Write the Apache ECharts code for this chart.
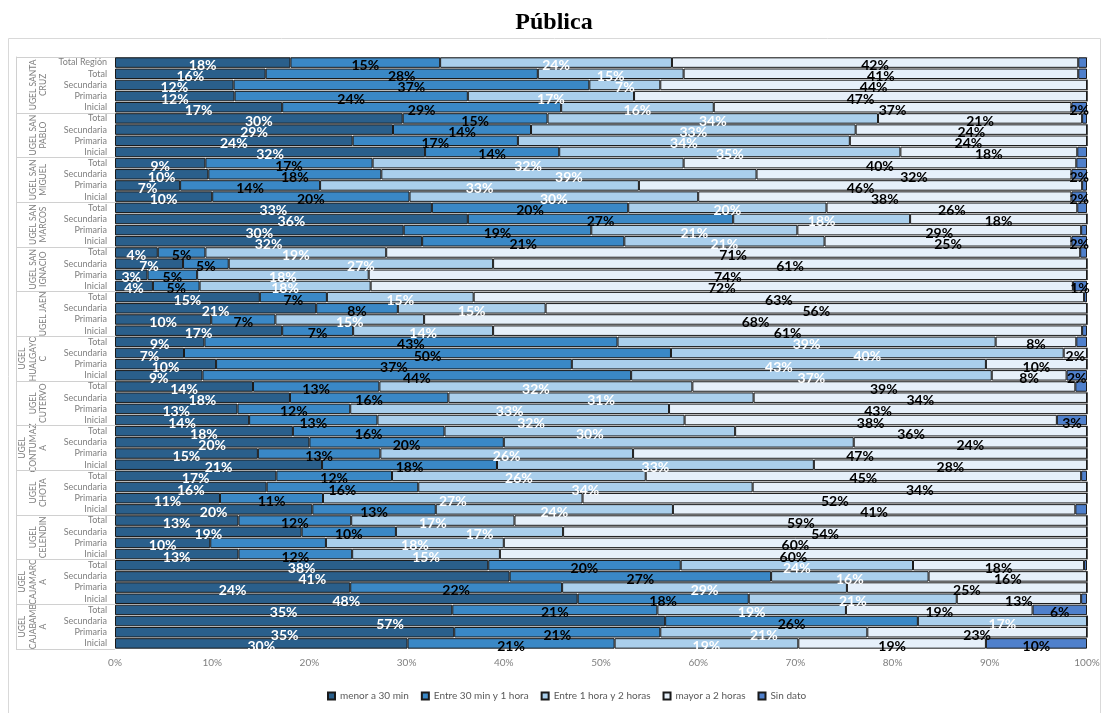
<!DOCTYPE html>
<html>
<head>
<meta charset="utf-8">
<script src="https://cdn.jsdelivr.net/npm/echarts@6/dist/echarts.min.js"></script>
<style>html,body{margin:0;padding:0;background:#fff}#c{width:1108px;height:713px}</style>
</head>
<body>
<div id="c"></div>
<script>
// Row labels, top to bottom
const rowLabels = ['Total Región',
 'Total','Secundaria','Primaria','Inicial',
 'Total','Secundaria','Primaria','Inicial',
 'Total','Secundaria','Primaria','Inicial',
 'Total','Secundaria','Primaria','Inicial',
 'Total','Secundaria','Primaria','Inicial',
 'Total','Secundaria','Primaria','Inicial',
 'Total','Secundaria','Primaria','Inicial',
 'Total','Secundaria','Primaria','Inicial',
 'Total','Secundaria','Primaria','Inicial',
 'Total','Secundaria','Primaria','Inicial',
 'Total','Secundaria','Primaria','Inicial',
 'Total','Secundaria','Primaria','Inicial',
 'Total','Secundaria','Primaria','Inicial'];
const groupNames = ['UGEL SANTA\nCRUZ','UGEL SAN\nPABLO','UGEL SAN\nMIGUEL','UGEL SAN\nMARCOS','UGEL SAN\nIGNACIO','UGEL JAEN','UGEL\nHUALGAYO\nC','UGEL\nCUTERVO','UGEL\nCONTUMAZ\nA','UGEL\nCHOTA','UGEL\nCELENDIN','UGEL\nCAJAMARC\nA','UGEL\nCAJABAMB\nA'];
const groupSizes = [5,4,4,4,4,4,4,4,4,4,4,4,4];
const seriesNames = ['menor a 30 min','Entre 30 min y 1 hora','Entre 1 hora y 2 horas','mayor a 2 horas','Sin dato'];

const menor30 = [18.05,
 15.5,12.2,12.3,17.2,
 29.6,28.6,24.45,31.9,
 9.3,9.6,6.7,10.0,
 32.6,36.3,29.7,31.6,
 4.4,7.0,3.35,3.9,
 14.9,20.7,9.9,17.2,
 9.2,7.1,10.4,9.0,
 14.2,18.0,12.6,13.8,
 18.3,20.0,14.7,21.3,
 16.6,15.6,10.8,20.3,
 12.7,19.2,9.8,12.7,
 38.4,40.6,24.2,47.6,
 34.7,56.6,34.9,30.1];
const entre30a1 = [15.4,
 28.0,36.6,24.0,28.7,
 14.9,14.2,17.0,13.8,
 17.2,17.8,14.4,20.3,
 20.2,27.3,19.3,20.8,
 4.9,4.7,5.1,4.8,
 6.9,8.4,6.6,7.3,
 42.5,50.1,36.6,44.1,
 13.0,16.3,11.6,13.2,
 15.6,20.0,12.6,18.0,
 11.9,15.6,10.6,12.7,
 11.6,9.7,11.9,11.7,
 19.8,26.9,21.8,17.6,
 21.1,26.0,21.2,21.3];
const entre1a2 = [23.85,
 15.0,7.3,17.1,15.7,
 34.0,33.4,34.15,35.1,
 32.0,38.6,32.8,29.7,
 20.4,18.2,21.2,20.6,
 18.6,27.2,17.65,17.6,
 15.1,15.2,15.3,14.4,
 38.9,40.4,42.6,37.1,
 32.2,31.4,32.8,31.6,
 29.9,36.0,26.0,32.6,
 26.1,34.4,26.7,24.4,
 16.8,17.2,18.3,15.2,
 23.9,16.2,29.3,21.4,
 19.4,17.4,21.3,18.9];
const mayor2 = [41.8,
 40.6,43.9,46.6,36.8,
 21.0,23.8,24.4,18.2,
 40.4,32.4,45.6,38.4,
 25.8,18.2,29.2,25.4,
 71.4,61.1,73.9,72.25,
 62.8,55.7,68.2,60.6,
 8.3,2.4,10.4,7.7,
 39.4,34.3,43.0,38.3,
 36.2,24.0,46.7,28.1,
 44.8,34.4,51.9,41.4,
 58.9,53.9,60.0,60.4,
 17.6,16.3,24.7,12.8,
 19.2,0,22.6,19.3];
const sinDato = [0.9,
 0.9,0,0,1.6,
 0.5,0,0,1.0,
 1.1,1.6,0.5,1.6,
 1.0,0,0.6,1.6,
 0.7,0,0,1.45,
 0.3,0,0,0.5,
 1.1,0,0,2.1,
 1.2,0,0,3.1,
 0,0,0,0,
 0.6,0,0,1.2,
 0,0,0,0,
 0.3,0,0,0.6,
 5.6,0,0,10.4];
const xTicks = [0,10,20,30,40,50,60,70,80,90,100];
// labels not shown in the reference: [row index, series index]
const hiddenLabels = [[34,2],[43,1]];

const cats = rowLabels.map((s,i)=> i + '|' + s);
const allData = [menor30, entre30a1, entre1a2, mayor2, sinDato];
const colors = ['#2A5F8B','#3A88C6','#AACFEC','#E6F0FA','#4F80CC'];
const labelColors = ['#ffffff','#000000','#ffffff','#000000','#000000'];

// group centers & boundaries (in category index units)
const groupCenters = [], groupBounds = [-0.5];
let start = 0;
groupSizes.forEach(n => { groupCenters.push(start + (n-1)/2); start += n; groupBounds.push(start - 0.5); });

const chart = echarts.init(document.getElementById('c'), null, {renderer:'canvas'});
const fontUI = 'Lato, "Open Sans", sans-serif';

const series = allData.map((arr, si) => ({
  name: seriesNames[si],
  type: 'bar',
  stack: 'all',
  yAxisIndex: 0,
  barCategoryGap: '6%',
  data: arr,
  itemStyle: { color: colors[si], borderColor: '#1a1a1a', borderWidth: 1 },
  label: {
    show: true,
    position: 'inside',
    offset: [0, 3],
    color: labelColors[si],
    fontFamily: fontUI,
    fontWeight: 'bold',
    fontSize: 14,
    formatter: p => {
      if (p.value < 1.3) return '';
      for (const h of hiddenLabels) if (h[0] === p.dataIndex && h[1] === si) return '';
      return Math.round(p.value) + '%';
    }
  },
  emphasis: { disabled: true },
  animation: false
}));

const borderRect = {
  type: 'rect', z: -10, silent: true,
  shape: { x: 8.5, y: 38.5, width: 1092, height: 700 },
  style: { fill: 'none', stroke: '#d9d9d9', lineWidth: 1 }
};

chart.setOption({
  animation: false,
  title: {
    text: 'Pública', left: 'center', top: 6,
    textStyle: { fontFamily: '"Liberation Serif", "DejaVu Serif", serif', fontWeight: 'bold', fontSize: 24, color: '#000' }
  },
  graphic: [borderRect],
  legend: {
    data: seriesNames,
    left: 322, top: 686,
    icon: 'rect', itemWidth: 7, itemHeight: 7, itemGap: 12,
    textStyle: { fontFamily: fontUI, fontSize: 10, color: '#595959' }
  },
  grid: { left: 115, right: 21, top: 57, bottom: 64, containLabel: false },
  xAxis: [{
    type: 'value', min: 0, max: 100, interval: 10,
    axisLabel: { formatter: v => xTicks.includes(v) ? v + '%' : '', color: '#7f7f7f', fontFamily: fontUI, fontSize: 10, margin: 9 },
    axisLine: { show: false }, axisTick: { show: false }, splitLine: { show: false }
  }, {
    type: 'value', min: 0, max: 100, position: 'top',
    axisLabel: { show: false }, axisTick: { show: false }, splitLine: { show: false },
    axisLine: { show: true, onZero: false, lineStyle: { color: '#bfbfbf', width: 1 } }
  }],
  yAxis: [{
    type: 'category', data: cats, inverse: true,
    axisLine: { show: false }, axisTick: { show: false },
    axisLabel: { formatter: v => v.split('|')[1], color: '#7f7f7f', fontFamily: fontUI, fontSize: 9, margin: 8, interval: 0 }
  }, {
    type: 'value', min: -0.5, max: 52.5, inverse: true, position: 'left', offset: 99,
    axisLine: { show: true, onZero: false, lineStyle: { color: '#d0d0d0' } },
    axisTick: { show: true, inside: true, length: 99, customValues: groupBounds, lineStyle: { color: '#d0d0d0' } },
    axisLabel: { show: false }, splitLine: { show: false }
  }],
  series: series
});

// Group labels, placed through the axis scale
const groupTexts = groupNames.map((name, i) => {
  const y = chart.convertToPixel({ yAxisIndex: 1 }, groupCenters[i]);
  return {
    type: 'text', silent: true,
    x: 49, y: y, rotation: Math.PI / 2,
    style: {
      text: name, align: 'center', verticalAlign: 'bottom',
      fill: '#7f7f7f', fontFamily: fontUI, fontSize: 8.5, lineHeight: 10.5
    }
  };
});
chart.setOption({ graphic: [borderRect].concat(groupTexts) }, { replaceMerge: ['graphic'] });
</script>
</body>
</html>
